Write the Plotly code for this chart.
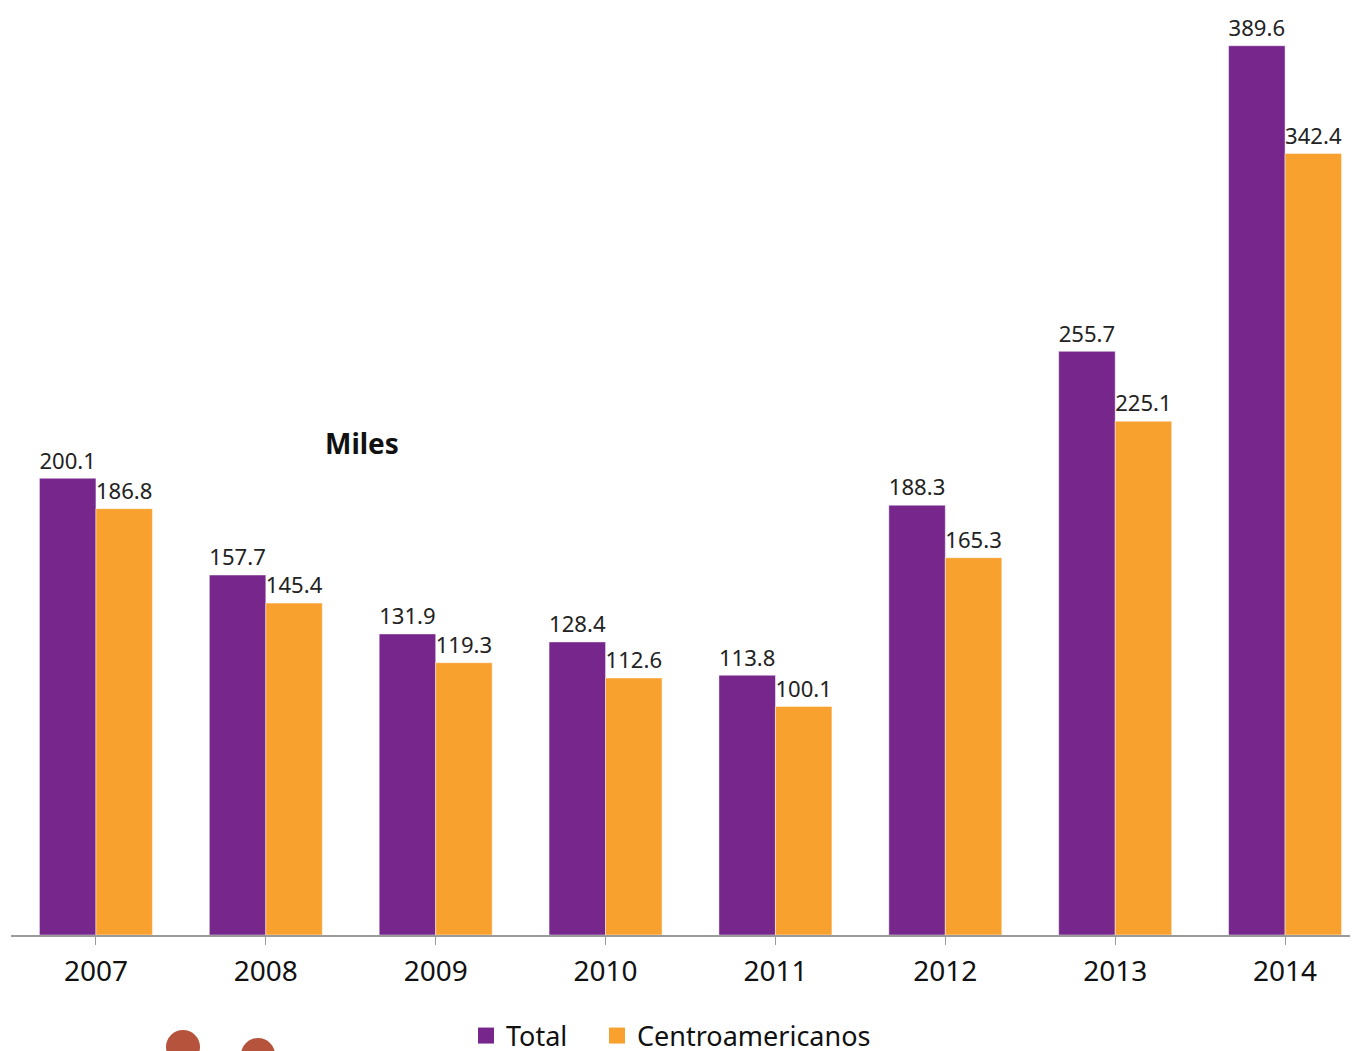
import plotly.graph_objects as go

years = ["2007", "2008", "2009", "2010", "2011", "2012", "2013", "2014"]
total = [200.1, 157.7, 131.9, 128.4, 113.8, 188.3, 255.7, 389.6]
centro = [186.8, 145.4, 119.3, 112.6, 100.1, 165.3, 225.1, 342.4]

FONT = "Noto Sans"
# the page body has an 8px margin, so the figure is drawn 8px in from the top-left;
# the plot area runs slightly past the right edge of the window, as in the reference
W, H = 1362, 1043
L, R, T, B = 3, 0, 14, 116
PURPLE, ORANGE = "#77278B", "#F9A12F"


def px(xr):
    return (xr - 11) / 1359


def py(yr):
    return (935 - yr) / 913


fig = go.Figure()
for name, vals, col in [("Total", total, PURPLE), ("Centroamericanos", centro, ORANGE)]:
    fig.add_trace(go.Bar(
        name=name, x=years, y=vals, showlegend=False,
        marker=dict(color=col, line=dict(color="rgba(255,255,255,0.45)", width=1)),
        text=[f"{v:.1f}" for v in vals], textposition="outside",
        textfont=dict(size=23, color="#222", family=FONT), cliponaxis=False,
    ))
for name, col, lg in [("Total", PURPLE, "legend"), ("Centroamericanos", ORANGE, "legend2")]:
    fig.add_trace(go.Scatter(
        name=name, x=[None], y=[None], mode="markers", legend=lg,
        marker=dict(symbol="square", size=20, color=col), showlegend=True,
    ))

leg_common = dict(orientation="h", yanchor="middle", xanchor="left",
                  font=dict(size=27, family=FONT, color="#111"), itemwidth=30,
                  bgcolor="rgba(0,0,0,0)")

fig.update_layout(
    width=W, height=H,
    margin=dict(l=L, r=R, t=T, b=B, autoexpand=False),
    paper_bgcolor="white", plot_bgcolor="white",
    barmode="group", bargap=0.335, bargroupgap=0,
    font=dict(family=FONT, color="#111"),
    showlegend=True,
    legend=dict(x=px(466), y=py(1036), **leg_common),
    legend2=dict(x=px(597), y=py(1036), **leg_common),
    xaxis=dict(showline=True, linecolor="#9a9a9a", linewidth=2,
               ticks="outside", ticklen=8, tickcolor="#9a9a9a", tickwidth=1,
               tickfont=dict(size=28, family=FONT, color="#111"),
               showgrid=False, range=[-0.5, 7.5], ticklabelstandoff=2),
    yaxis=dict(visible=False, range=[0, 400], showgrid=False),
    annotations=[dict(text="<b>Miles</b>", x=px(362), y=py(443),
                      xanchor="center", yanchor="middle",
                      xref="paper", yref="paper", showarrow=False,
                      font=dict(size=28, family=FONT, color="#111"))],
    shapes=[
        dict(type="circle", xref="paper", yref="paper", fillcolor="#B5533C", line=dict(width=0),
             x0=px(166), x1=px(200), y0=py(1064), y1=py(1030)),
        dict(type="circle", xref="paper", yref="paper", fillcolor="#B5533C", line=dict(width=0),
             x0=px(241), x1=px(275), y0=py(1072), y1=py(1038)),
    ],
)

fig.write_html("out.html")
